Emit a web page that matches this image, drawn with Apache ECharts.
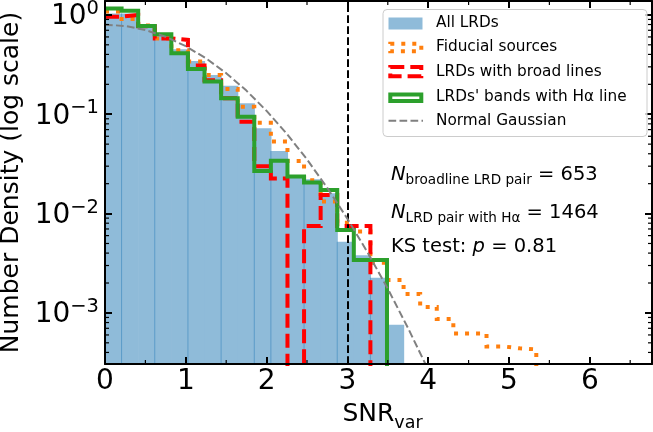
<!DOCTYPE html>
<html><head><meta charset="utf-8">
<script src="https://cdn.jsdelivr.net/npm/echarts@6/dist/echarts.min.js"></script>
<style>html,body{margin:0;padding:0;background:#fff}#c{width:653px;height:432px}</style>
</head><body><div id="c"></div>
<script>
// ---------- data ----------
const binWidth = 0.2053;               // histogram bin width (SNR_var units), bins start at 0
const allLRDs   = [1.03, 1.03, 0.77, 0.63, 0.45, 0.344, 0.249, 0.193, 0.129, 0.0722, 0.0427, 0.023, 0.0221, 0.016, 0.0052, 0.0038, 0.00226, 0.00076];
const fiducial  = [1.08, 0.91, 0.78, 0.58, 0.44, 0.34, 0.249, 0.179, 0.119, 0.082, 0.053, 0.0339, 0.0216, 0.0132, 0.0081, 0.0066, 0.0032, 0.00214, 0.00155, 0.00115, 0.00087, 0.00062, 0.00062, 0.00046, 0.00044, 0.00043];
const broadLine = [0.96, 1.0, 0.77, 0.58, 0.56, 0.31, 0.22, 0.145, 0.084, 0.030, 0.0226, 0, 0.0075, 0.0154, 0.0075, 0.0075];
const lrdHalpha = [1.16, 1.10, 0.775, 0.64, 0.411, 0.286, 0.213, 0.145, 0.0946, 0.0269, 0.0341, 0.0236, 0.0205, 0.0173, 0.00684, 0.0034, 0.0034];
const gaussX = [0, 0.25, 0.5, 0.75, 1.0, 1.25, 1.5, 1.75, 2.0, 2.25, 2.5, 2.75, 3.0, 3.25, 3.5, 3.75, 4.0];
const gaussY = [0.798, 0.773, 0.704, 0.602, 0.484, 0.365, 0.259, 0.173, 0.108, 0.0635, 0.0351, 0.0182, 0.00887, 0.00406, 0.00175, 0.000705, 0.000268];
const blueEdgeIdx = [1, 3, 5, 7, 9, 10, 12, 14, 16];   // bin edges where the All-LRDs outline shows
const snrCut = 3;
const xTickLabels = ['0', '1', '2', '3', '4', '5', '6'];
const yTickExponents = [0, -1, -2, -3];
const legendLabels = ['All LRDs', 'Fiducial sources', 'LRDs with broad lines', "LRDs' bands with H\u03b1 line", 'Normal Gaussian'];
const annotations = [
  {sym: 'N', sub: 'broadline LRD pair', rest: ' = 653'},
  {sym: 'N', sub: 'LRD pair with H\u03b1', rest: ' = 1464'},
];
const ksText = {pre: 'KS test: ', sym: 'p', rest: ' = 0.81'};

// ---------- setup ----------
const FONT = 'DejaVu Sans';
const X_MIN = 0, X_MAX = 6.77, Y_MIN = 3.06e-4, Y_MAX = 1.38;
const FLOOR = 1e-7;
const chart = echarts.init(document.getElementById('c'), null, {renderer: 'canvas', width: 653, height: 432});

function stepPoints(vals) {
  const pts = [];
  vals.forEach((v, i) => pts.push([i * binWidth, v > 0 ? v : FLOOR]));
  pts.push([vals.length * binWidth, FLOOR]);
  return pts;
}
const yMinor = [];
for (let n = -4; n <= 0; n++) for (let k = 2; k <= 9; k++) {
  const v = k * Math.pow(10, n);
  if (v > Y_MIN && v < Y_MAX) yMinor.push([X_MIN, v]);
}
const xMinor = [];
for (let k = 0; k < 7; k++) if (k + 0.5 < X_MAX) xMinor.push([k + 0.5, Y_MIN]);

const axisBase = {
  z: 10,
  axisLine: {show: true, onZero: false, lineStyle: {color: '#000', width: 2}},
  axisTick: {show: true, inside: true, length: 7, lineStyle: {color: '#000', width: 2}},
  splitLine: {show: false}, minorTick: {show: false}, minorSplitLine: {show: false}
};
const stepSeries = (name, vals, color, dash, z) => ({
  name, type: 'line', data: stepPoints(vals), step: 'end', showSymbol: false, symbol: 'none',
  clip: true, silent: true, z,
  lineStyle: {color, width: 4, type: dash, cap: 'butt', join: 'miter'}
});

const legendRowY = [23.3, 47.5, 71.7, 97.2, 120.7];
const graphics = [
  {type: 'rect', z: 100, shape: {x: 383, y: 9.5, width: 264, height: 127, r: 4},
   style: {fill: 'rgba(255,255,255,0.8)', stroke: '#cccccc', lineWidth: 1}},
  {type: 'rect', z: 101, shape: {x: 388.5, y: 17.5, width: 34, height: 12}, style: {fill: '#8fbbd9'}},
  {type: 'rect', z: 101, shape: {x: 390.3, y: 43.7, width: 31, height: 7.6},
   style: {fill: 'none', stroke: '#ff7f0e', lineWidth: 4, lineDash: [4, 7]}},
  {type: 'rect', z: 101, shape: {x: 390.3, y: 67, width: 31, height: 9.3},
   style: {fill: 'none', stroke: '#ff0000', lineWidth: 4, lineDash: [14, 6]}},
  {type: 'rect', z: 101, shape: {x: 390.3, y: 94.5, width: 31, height: 6.5},
   style: {fill: 'none', stroke: '#2ca02c', lineWidth: 4}},
  {type: 'line', z: 101, shape: {x1: 388.5, y1: 120.7, x2: 423, y2: 120.7},
   style: {stroke: '#808080', lineWidth: 2, lineDash: [7.7, 3.3]}},
];
legendLabels.forEach((t, i) => graphics.push({
  type: 'text', z: 102, x: 436, y: legendRowY[i],
  style: {text: t, fontFamily: FONT, fontSize: 15.3, fill: '#000', verticalAlign: 'middle', align: 'left'}
}));
const annRich = {
  n: {fontFamily: FONT, fontStyle: 'italic', fontSize: 19.5, lineHeight: 24, fill: '#000'},
  s: {fontFamily: FONT, fontSize: 13.6, lineHeight: 14, verticalAlign: 'bottom', fill: '#000'},
  t: {fontFamily: FONT, fontSize: 19.5, lineHeight: 24, fill: '#000'}
};
const annTop = [163, 201];
annotations.forEach((a, i) => graphics.push({
  type: 'text', z: 102, x: 391, y: annTop[i],
  style: {text: `{n|${a.sym}}{s|${a.sub}}{t|${a.rest}}`, rich: annRich, verticalAlign: 'top', align: 'left'}
}));
graphics.push({
  type: 'text', z: 102, x: 391, y: 234.5,
  style: {text: `{t|${ksText.pre}}{n|${ksText.sym}}{t|${ksText.rest}}`, rich: annRich, verticalAlign: 'top', align: 'left'}
});

const option = {
  animation: false,
  backgroundColor: '#ffffff',
  grid: {left: 105, right: 1, top: 1, bottom: 68, containLabel: false, outerBoundsMode: 'none'},
  xAxis: [
    Object.assign({}, axisBase, {
      type: 'value', min: X_MIN, max: X_MAX, interval: 1, position: 'bottom',
      axisLabel: {
        show: true, margin: 4, color: '#000', fontFamily: FONT, fontSize: 28,
        formatter: v => (Math.abs(v - Math.round(v)) < 1e-6 && xTickLabels[Math.round(v)] !== undefined) ? xTickLabels[Math.round(v)] : ''
      },
      name: '{a|SNR}{b|var}', nameLocation: 'middle', nameGap: 38,
      nameTextStyle: {
        padding: [0, 0, 0, 8],
        rich: {a: {fontFamily: FONT, fontSize: 25, color: '#000', lineHeight: 30, verticalAlign: 'top'},
               b: {fontFamily: FONT, fontSize: 17.5, color: '#000', lineHeight: 30, verticalAlign: 'bottom', padding: [0, 0, 0, 0]}}
      }
    }),
    Object.assign({}, axisBase, {
      type: 'value', min: X_MIN, max: X_MAX, interval: 1, position: 'top', axisLabel: {show: false}
    })
  ],
  yAxis: [
    Object.assign({}, axisBase, {
      type: 'log', logBase: 10, min: Y_MIN, max: Y_MAX, position: 'left',
      axisLabel: {
        show: true, margin: 6, color: '#000',
        formatter: v => {
          const e = Math.log10(v), r = Math.round(e);
          if (Math.abs(e - r) > 1e-6 || yTickExponents.indexOf(r) < 0) return '';
          return `{b|10}{s|${r === 0 ? '0' : '\u2212' + Math.abs(r)}}`;
        },
        rich: {b: {fontFamily: FONT, fontSize: 28, color: '#000', lineHeight: 32, verticalAlign: 'bottom'},
               s: {fontFamily: FONT, fontSize: 19.5, color: '#000', lineHeight: 32, verticalAlign: 'top'}}
      },
      name: 'Number Density (log scale)', nameLocation: 'middle', nameGap: 76,
      nameTextStyle: {fontFamily: FONT, fontSize: 25, color: '#000'}
    }),
    Object.assign({}, axisBase, {
      type: 'log', logBase: 10, min: Y_MIN, max: Y_MAX, position: 'right', axisLabel: {show: false}
    })
  ],
  series: [
    {
      name: 'All LRDs', type: 'custom', coordinateSystem: 'cartesian2d', z: 1, silent: true,
      data: allLRDs.map((v, i) => [i * binWidth, (i + 1) * binWidth, v]),
      encode: {x: [0, 1], y: 2},
      renderItem: (params, api) => {
        const a = api.coord([api.value(0), api.value(2)]);
        const b = api.coord([api.value(1), Y_MIN]);
        return {type: 'rect', shape: {x: a[0], y: a[1], width: b[0] - a[0] + 0.6, height: b[1] - a[1]},
                style: {fill: '#8fbbd9'}};
      }
    },
    {
      name: 'edges', type: 'custom', coordinateSystem: 'cartesian2d', z: 2, silent: true,
      data: blueEdgeIdx.map(k => [k * binWidth, Math.min(allLRDs[k - 1], allLRDs[k])]),
      encode: {x: 0, y: 1},
      renderItem: (params, api) => {
        const a = api.coord([api.value(0), api.value(1)]);
        const b = api.coord([api.value(0), Y_MIN]);
        return {type: 'line', shape: {x1: a[0], y1: a[1], x2: b[0], y2: b[1]},
                style: {stroke: '#5b9bc8', lineWidth: 1}};
      }
    },
    stepSeries('Fiducial sources', fiducial, '#ff7f0e', [4, 7], 3),
    stepSeries('LRDs with broad lines', broadLine, '#ff0000', [14, 6], 4),
    stepSeries("LRDs' bands with H\u03b1 line", lrdHalpha, '#2ca02c', 'solid', 5),
    {
      name: 'Normal Gaussian', type: 'line', z: 6, silent: true, clip: true, showSymbol: false, symbol: 'none',
      data: gaussX.map((x, i) => [x, gaussY[i]]),
      lineStyle: {color: '#808080', width: 2, type: [7.7, 3.3]},
      markLine: {
        silent: true, symbol: ['none', 'none'], animation: false, label: {show: false},
        lineStyle: {color: '#000', width: 2, type: [7.7, 3.3]},
        data: [{xAxis: snrCut}]
      }
    },
    {
      name: 'yMinor', type: 'custom', coordinateSystem: 'cartesian2d', z: 20, silent: true, clip: false,
      data: yMinor, encode: {x: 0, y: 1},
      renderItem: (params, api) => {
        const a = api.coord([X_MIN, api.value(1)]);
        const b = api.coord([X_MAX, api.value(1)]);
        return {type: 'group', children: [
          {type: 'line', shape: {x1: a[0], y1: a[1], x2: a[0] + 4, y2: a[1]}, style: {stroke: '#000', lineWidth: 1.2}},
          {type: 'line', shape: {x1: b[0], y1: b[1], x2: b[0] - 4, y2: b[1]}, style: {stroke: '#000', lineWidth: 1.2}}
        ]};
      }
    },
    {
      name: 'xMinor', type: 'custom', coordinateSystem: 'cartesian2d', z: 20, silent: true, clip: false,
      data: xMinor, encode: {x: 0, y: 1},
      renderItem: (params, api) => {
        const a = api.coord([api.value(0), Y_MIN]);
        const b = api.coord([api.value(0), Y_MAX]);
        return {type: 'group', children: [
          {type: 'line', shape: {x1: a[0], y1: a[1], x2: a[0], y2: a[1] - 4}, style: {stroke: '#000', lineWidth: 1.2}},
          {type: 'line', shape: {x1: b[0], y1: b[1], x2: b[0], y2: b[1] + 4}, style: {stroke: '#000', lineWidth: 1.2}}
        ]};
      }
    }
  ],
  graphic: graphics
};
chart.setOption(option);
</script>
</body></html>
